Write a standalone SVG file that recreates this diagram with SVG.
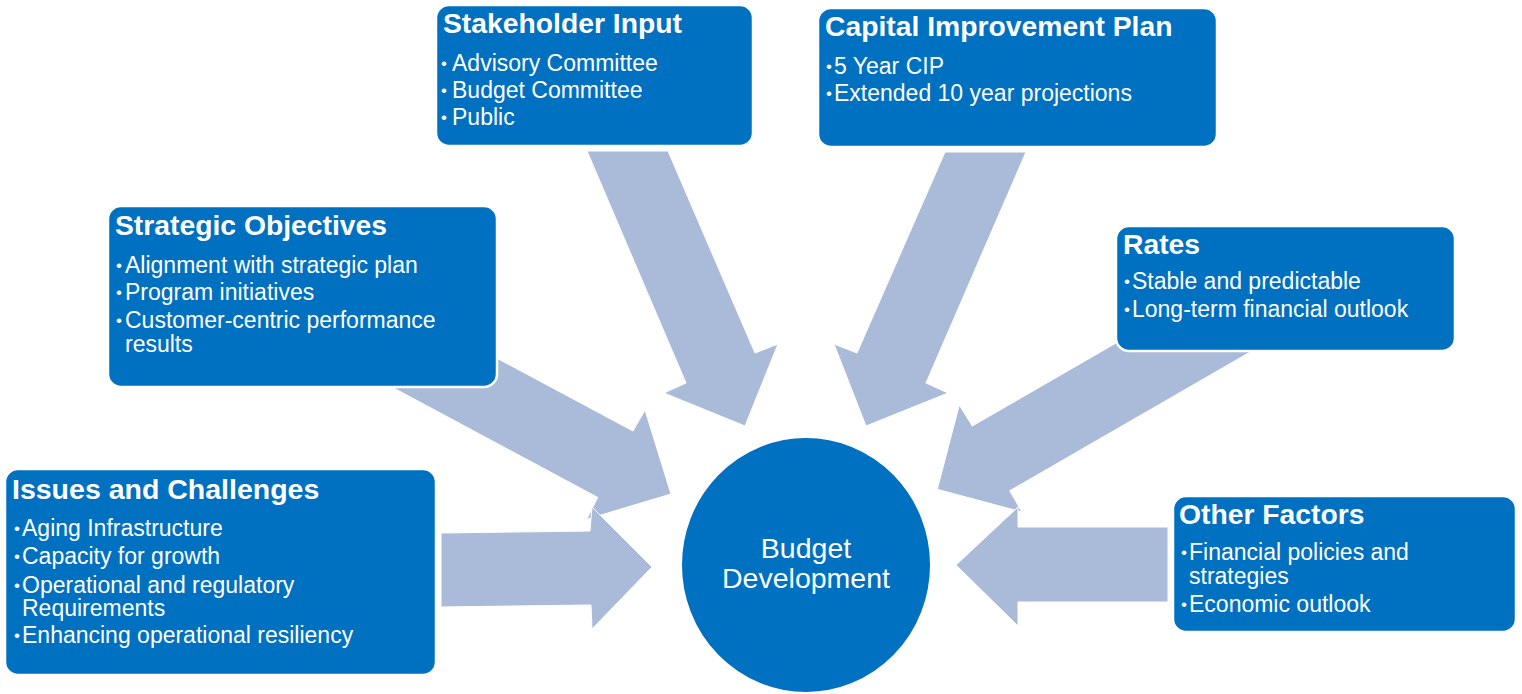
<svg xmlns="http://www.w3.org/2000/svg" width="1522" height="694" viewBox="0 0 1522 694">
  <style>
    .arrow { fill: #AABBDA; stroke: #FFFFFF; stroke-width: 1; stroke-linejoin: miter; }
    .box { fill: #0070C0; stroke: #FFFFFF; stroke-width: 2.5; }
    .hub { fill: #0070C0; stroke: #FFFFFF; stroke-width: 2; }
    .title { font-family: "Liberation Sans", Arial, sans-serif; font-weight: bold; font-size: 28.3px; fill: #FFFFFF; }
    .item { font-family: "Liberation Sans", Arial, sans-serif; font-size: 23px; fill: #FFFFFF; }
    .dot { font-family: "Liberation Sans", Arial, sans-serif; font-size: 17px; fill: #FFFFFF; }
    .hubtext { font-family: "Liberation Sans", Arial, sans-serif; font-size: 28.5px; fill: #FFFFFF; text-anchor: middle; }
  </style>

  <!-- block arrows pointing into the hub -->
  <g id="connectors">
    <polygon id="arrow-stakeholder" class="arrow" points="587,151 668,151 755,353 778,344 745,426 664,393 686,383"/>
    <polygon id="arrow-capital" class="arrow" points="945,152 1026,152 926,383 948,393 866,426 834,344 857,353"/>
    <polygon id="arrow-strategic" class="arrow" points="400,306.3 633,431 645,410 671,494 586.7,519.3 597.7,497.4 364.7,372.5"/>
    <polygon id="arrow-rates" class="arrow" points="1242.6,270 972.3,426 959.3,405 937.3,489.3 1022,512 1009.7,490.8 1280.1,334.7"/>
    <polygon id="arrow-issues" class="arrow" points="441,533 590,531 592,507 652,567 592,629 591,605 441,607"/>
    <polygon id="arrow-other" class="arrow" points="1168,527 1018,527 1018,507 956,565 1018,626 1018,602 1168,602"/>
  </g>

  <g id="stakeholder-input">
    <rect class="box" x="436" y="5" width="317" height="141" rx="13"/>
    <text class="title" x="443" y="33">Stakeholder Input</text>
    <text class="dot" x="441" y="69">•</text><text class="item" x="452" y="71">Advisory Committee</text>
    <text class="dot" x="441" y="96">•</text><text class="item" x="452" y="98">Budget Committee</text>
    <text class="dot" x="441" y="123">•</text><text class="item" x="452" y="125">Public</text>
  </g>

  <g id="capital-improvement-plan">
    <rect class="box" x="818" y="8" width="399" height="139" rx="13"/>
    <text class="title" x="825" y="36">Capital Improvement Plan</text>
    <text class="dot" x="826" y="71.5">•</text><text class="item" x="834" y="73.5">5 Year CIP</text>
    <text class="dot" x="826" y="99">•</text><text class="item" x="834" y="101">Extended 10 year projections</text>
  </g>

  <g id="strategic-objectives">
    <rect class="box" x="108" y="206" width="389" height="181" rx="13"/>
    <text class="title" x="115" y="235">Strategic Objectives</text>
    <text class="dot" x="116" y="271">•</text><text class="item" x="125" y="273">Alignment with strategic plan</text>
    <text class="dot" x="116" y="298">•</text><text class="item" x="125" y="300">Program initiatives</text>
    <text class="dot" x="116" y="326">•</text><text class="item" x="125" y="328">Customer-centric performance</text>
    <text class="item" x="125" y="352">results</text>
  </g>

  <g id="rates">
    <rect class="box" x="1116" y="226" width="339" height="125" rx="13"/>
    <text class="title" x="1123" y="254">Rates</text>
    <text class="dot" x="1124" y="287">•</text><text class="item" x="1132" y="289">Stable and predictable</text>
    <text class="dot" x="1124" y="315">•</text><text class="item" x="1132" y="317">Long-term financial outlook</text>
  </g>

  <g id="issues-and-challenges">
    <rect class="box" x="5" y="469" width="431" height="206" rx="13"/>
    <text class="title" x="12" y="499" style="font-size:28.5px">Issues and Challenges</text>
    <text class="dot" x="14" y="534">•</text><text class="item" x="22" y="536">Aging Infrastructure</text>
    <text class="dot" x="14" y="562">•</text><text class="item" x="22" y="564">Capacity for growth</text>
    <text class="dot" x="14" y="590.5">•</text><text class="item" x="22" y="592.5">Operational and regulatory</text>
    <text class="item" x="22" y="616">Requirements</text>
    <text class="dot" x="14" y="641">•</text><text class="item" x="22" y="643">Enhancing operational resiliency</text>
  </g>

  <g id="other-factors">
    <rect class="box" x="1173" y="496" width="343" height="136" rx="13"/>
    <text class="title" x="1179" y="524">Other Factors</text>
    <text class="dot" x="1181" y="558">•</text><text class="item" x="1189" y="560">Financial policies and</text>
    <text class="item" x="1189" y="584">strategies</text>
    <text class="dot" x="1181" y="610">•</text><text class="item" x="1189" y="612">Economic outlook</text>
  </g>

  <g id="budget-development">
    <ellipse class="hub" cx="806" cy="565" rx="125" ry="128"/>
    <text class="hubtext" x="806" y="558">Budget</text>
    <text class="hubtext" x="806" y="588">Development</text>
  </g>
</svg>
